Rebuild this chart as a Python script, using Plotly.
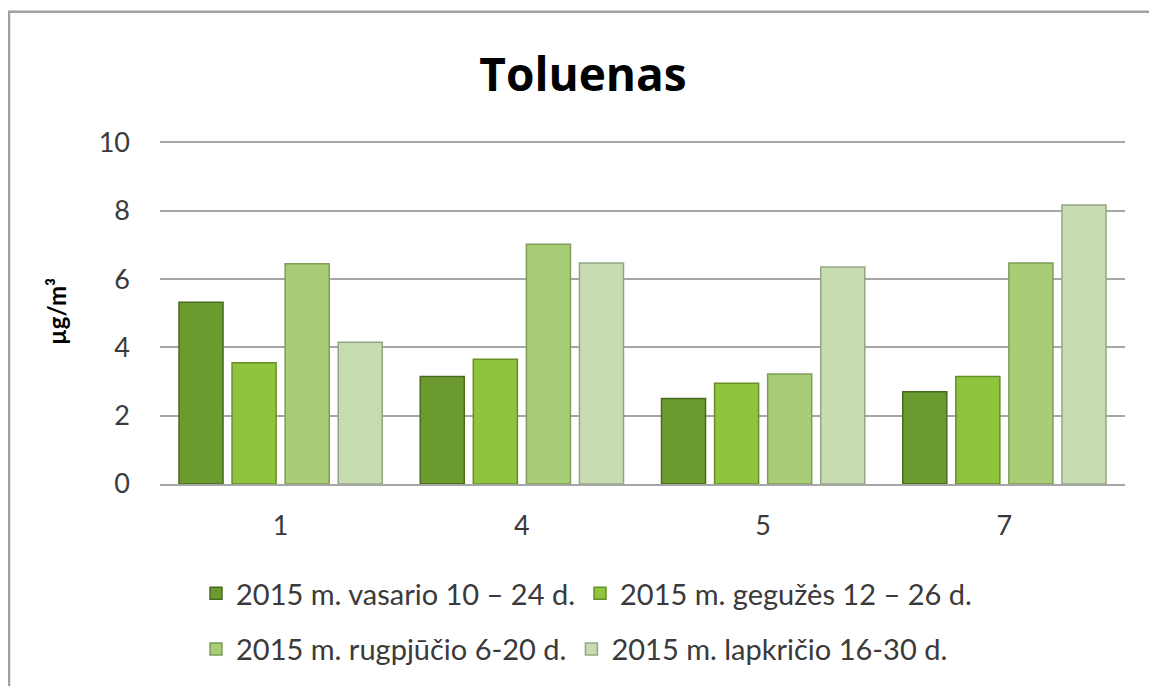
import plotly.graph_objects as go

categories = ["1", "4", "5", "7"]
series_names = [
    "2015 m. vasario 10 – 24 d.",
    "2015 m. gegužės 12 – 26 d.",
    "2015 m. rugpjūčio 6-20 d.",
    "2015 m. lapkričio 16-30 d.",
]
vasario = [5.32, 3.15, 2.5, 2.7]
geguzes = [3.55, 3.65, 2.95, 3.15]
rugpjucio = [6.45, 7.02, 3.22, 6.47]
lapkricio = [4.15, 6.47, 6.35, 8.17]
y_ticks = [0, 2, 4, 6, 8, 10]

colors = ["#6b9a2e", "#8fc43c", "#a9cc76", "#c7dcb0"]
edges = ["#4a6a20", "#668f2a", "#7f9c58", "#93a684"]
legend_ids = ["legend", "legend", "legend2", "legend2"]

# the page body has an 8px margin, so work in window pixels minus 8
OFF = 8
W, H = 1157 - OFF, 686 - OFF
YMAX = 10.1
unit = (486 - 142) / 10
top = 486 - YMAX * unit
ml, mr, mt, mb = 160 - OFF, 32, round(top) - OFF, 200
pw, ph = W - ml - mr, H - mt - mb


def px_y(y):
    # window pixel row -> paper y
    return 1 - (y - OFF - mt) / ph


def px_x(x):
    return (x - OFF - ml) / pw


fig = go.Figure()
for name, vals, c, e, lg in zip(series_names, [vasario, geguzes, rugpjucio, lapkricio],
                                 colors, edges, legend_ids):
    fig.add_trace(go.Bar(x=categories, y=vals, name=name, legend=lg,
                         marker=dict(color=c, line=dict(color=e, width=1.5))))

font = "Lato, 'Open Sans', sans-serif"
txt = "#3a3a3a"
leg_common = dict(orientation="h", xanchor="left", yanchor="middle",
                  font=dict(family=font, size=29, color=txt),
                  itemwidth=30, bgcolor="rgba(0,0,0,0)")

fig.update_layout(
    width=W, height=H,
    margin=dict(l=ml, r=mr, t=mt, b=mb),
    paper_bgcolor="white", plot_bgcolor="white",
    barmode="group", bargap=0.12, bargroupgap=0.17,
    title=dict(text="<b>Toluenas</b>", x=px_x(583), xref="paper", xanchor="center",
               y=1 - (75 - OFF) / H, yanchor="middle",
               font=dict(family="'Open Sans', sans-serif", size=46, color="black")),
    legend=dict(x=px_x(196), y=px_y(596), **leg_common),
    legend2=dict(x=px_x(196), y=px_y(652), **leg_common),
    shapes=[dict(type="rect", xref="paper", yref="paper",
                 x0=px_x(9), x1=px_x(1155),
                 y0=px_y(720), y1=px_y(11),
                 line=dict(color="#a0a0a0", width=2.5), layer="below")],
)
fig.update_yaxes(range=[0, YMAX], tickvals=y_ticks, showgrid=True,
                 gridcolor="#a6a6a6", gridwidth=1.5, zeroline=False,
                 showline=False, ticks="", ticklabelstandoff=29,
                 tickfont=dict(family=font, size=27, color=txt),
                 title=dict(text="<b>µg/m³</b>", standoff=25,
                            font=dict(family=font, size=24, color="black")))
fig.update_xaxes(showline=True, linecolor="#a6a6a6", linewidth=1.5,
                 ticks="", tickfont=dict(family=font, size=27, color=txt),
                 ticklabelstandoff=17)

fig.write_html("out.html")
